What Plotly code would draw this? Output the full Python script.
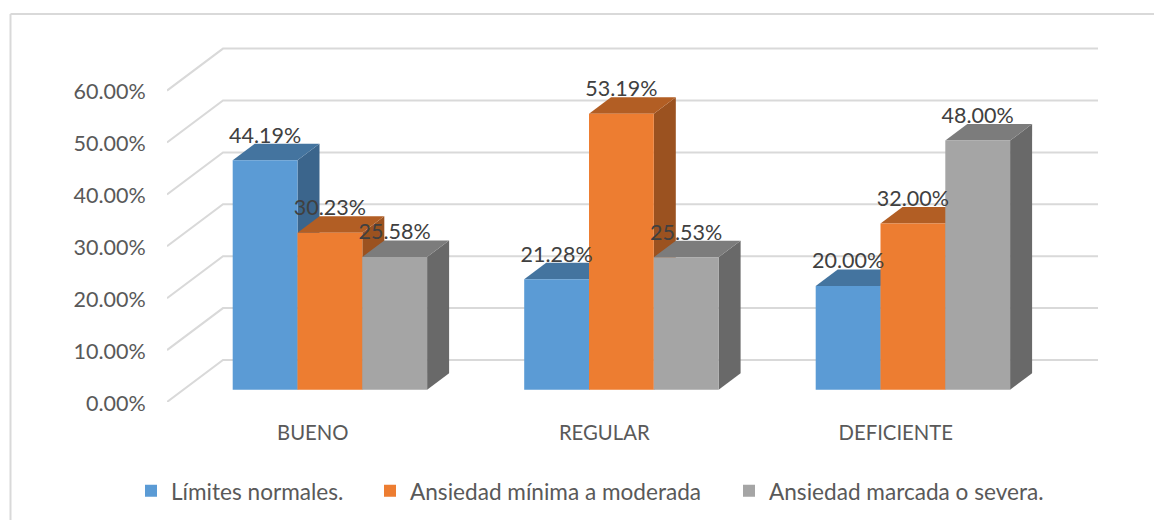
import plotly.graph_objects as go

categories = ["BUENO", "REGULAR", "DEFICIENTE"]
series_names = ["Límites normales.", "Ansiedad mínima a moderada", "Ansiedad marcada o severa."]
limites = [44.19, 21.28, 20.00]
minima = [30.23, 53.19, 32.00]
marcada = [25.58, 25.53, 48.00]
all_values = [limites, minima, marcada]
value_ticks = [0, 10, 20, 30, 40, 50, 60]

front_colors = ["#5B9BD5", "#ED7D31", "#A5A5A5"]
top_colors = ["#44749F", "#B25E24", "#7C7C7C"]
side_colors = ["#3B658C", "#9B5220", "#696969"]
GRID = "#D9D9D9"
FONT = "Lato"

# page geometry (pixels); the figure starts after the page's 8 px body margin
W, H, BODY = 1162, 520, 8
PLOT_L, PLOT_R, PLOT_T, PLOT_B = 167, 1102, 40, 402
PX_CAT, PX_VAL = 291.5, 5.19

x_range = [-0.5, (PLOT_R - PLOT_L) / PX_CAT - 0.5]
y_range = [0, (PLOT_B - PLOT_T) / PX_VAL]

# pseudo-3D offsets expressed in axis units
WALL_DX, WALL_DY = 56 / PX_CAT, 42 / PX_VAL
FLOOR_LIFT = 12.3 / PX_VAL
BAR_START = 65.7 / PX_CAT - 0.5
BAR_W = 64.8 / PX_CAT
DEPTH_DX, DEPTH_DY = 22 / PX_CAT, 16.5 / PX_VAL
LABEL_GAP = 23 / PX_VAL
n = len(categories)
wall_right = (1098 - PLOT_L) / PX_CAT - 0.5

fig = go.Figure()

# wall gridlines
gx, gy = [], []
for t in value_ticks:
    gx += [-0.5, -0.5 + WALL_DX, wall_right, None]
    gy += [t, t + WALL_DY, t + WALL_DY, None]
fig.add_trace(go.Scatter(x=gx, y=gy, mode="lines", line=dict(color=GRID, width=2),
                         showlegend=False, hoverinfo="skip"))

# side and top faces, painted left to right
for c in range(n):
    for s, vals in enumerate(all_values):
        x0 = c + BAR_START + s * BAR_W
        x1 = x0 + BAR_W
        top = vals[c] + FLOOR_LIFT
        fig.add_trace(go.Scatter(
            x=[x1, x1 + DEPTH_DX, x1 + DEPTH_DX, x1, x1],
            y=[FLOOR_LIFT, FLOOR_LIFT + DEPTH_DY, top + DEPTH_DY, top, FLOOR_LIFT],
            mode="lines", fill="toself", fillcolor=side_colors[s],
            line=dict(width=0), showlegend=False, hoverinfo="skip"))
        fig.add_trace(go.Scatter(
            x=[x0, x1, x1 + DEPTH_DX, x0 + DEPTH_DX, x0],
            y=[top, top, top + DEPTH_DY, top + DEPTH_DY, top],
            mode="lines", fill="toself", fillcolor=top_colors[s],
            line=dict(width=0), showlegend=False, hoverinfo="skip"))

# front faces on an overlaid subplot, so that they sit over neighbouring sides
legend_ids = ["legend", "legend2", "legend3"]
for s, vals in enumerate(all_values):
    fig.add_trace(go.Bar(
        x=[c + BAR_START + (s + 0.5) * BAR_W for c in range(n)],
        y=vals, base=FLOOR_LIFT, width=BAR_W,
        marker=dict(color=front_colors[s], line=dict(width=0)),
        name=series_names[s], xaxis="x2", yaxis="y2",
        legend=legend_ids[s], showlegend=True))

# data labels
lx, ly, lt = [], [], []
for s, vals in enumerate(all_values):
    for c in range(n):
        lx.append(c + BAR_START + (s + 0.5) * BAR_W)
        ly.append(vals[c] + FLOOR_LIFT + LABEL_GAP)
        lt.append(f"{vals[c]:.2f}%")
fig.add_trace(go.Scatter(x=lx, y=ly, text=lt, mode="text", textposition="middle center",
                         textfont=dict(family=FONT, size=21.5, color="#404040"),
                         xaxis="x2", yaxis="y2", showlegend=False, hoverinfo="skip"))


def paper_x(px):
    return (px - PLOT_L) / (PLOT_R - PLOT_L)


def paper_y(px):
    return (PLOT_B - px) / (PLOT_B - PLOT_T)


def legend_at(px):
    return dict(orientation="h", x=paper_x(px), xanchor="left", y=paper_y(491),
                yanchor="middle", bgcolor="rgba(0,0,0,0)", borderwidth=0,
                font=dict(family=FONT, size=22.6, color="#595959"))


frame = dict(type="line", xref="paper", yref="paper", line=dict(color=GRID, width=2))
fig.update_layout(
    width=W, height=H, autosize=False,
    margin=dict(l=PLOT_L - BODY, r=W + BODY - PLOT_R, t=PLOT_T - BODY, b=H + BODY - PLOT_B,
                autoexpand=False),
    paper_bgcolor="white", plot_bgcolor="white",
    barmode="overlay", showlegend=True,
    font=dict(family=FONT, size=21, color="#595959"),
    xaxis=dict(range=x_range, tickmode="array", tickvals=list(range(n)), ticktext=categories,
               ticks="outside", ticklen=13, tickcolor="rgba(0,0,0,0)",
               showgrid=False, zeroline=False, showline=False,
               tickfont=dict(family=FONT, size=20.3, color="#595959")),
    yaxis=dict(range=y_range, tickmode="array", tickvals=value_ticks,
               ticktext=[f"{t:.2f}%" for t in value_ticks],
               ticks="outside", ticklen=16, tickcolor="rgba(0,0,0,0)",
               ticklabelshift=1,
               showgrid=False, zeroline=False, showline=False,
               tickfont=dict(family=FONT, size=21.5, color="#595959")),
    xaxis2=dict(range=x_range, overlaying="x", visible=False),
    yaxis2=dict(range=y_range, overlaying="y", visible=False),
    legend=legend_at(131), legend2=legend_at(370), legend3=legend_at(729),
    shapes=[
        dict(frame, x0=paper_x(10.5), x1=paper_x(1170), y0=paper_y(14), y1=paper_y(14)),
        dict(frame, x0=paper_x(10.5), x1=paper_x(10.5), y0=paper_y(14), y1=paper_y(528)),
    ],
)

fig.write_html("out.html")
